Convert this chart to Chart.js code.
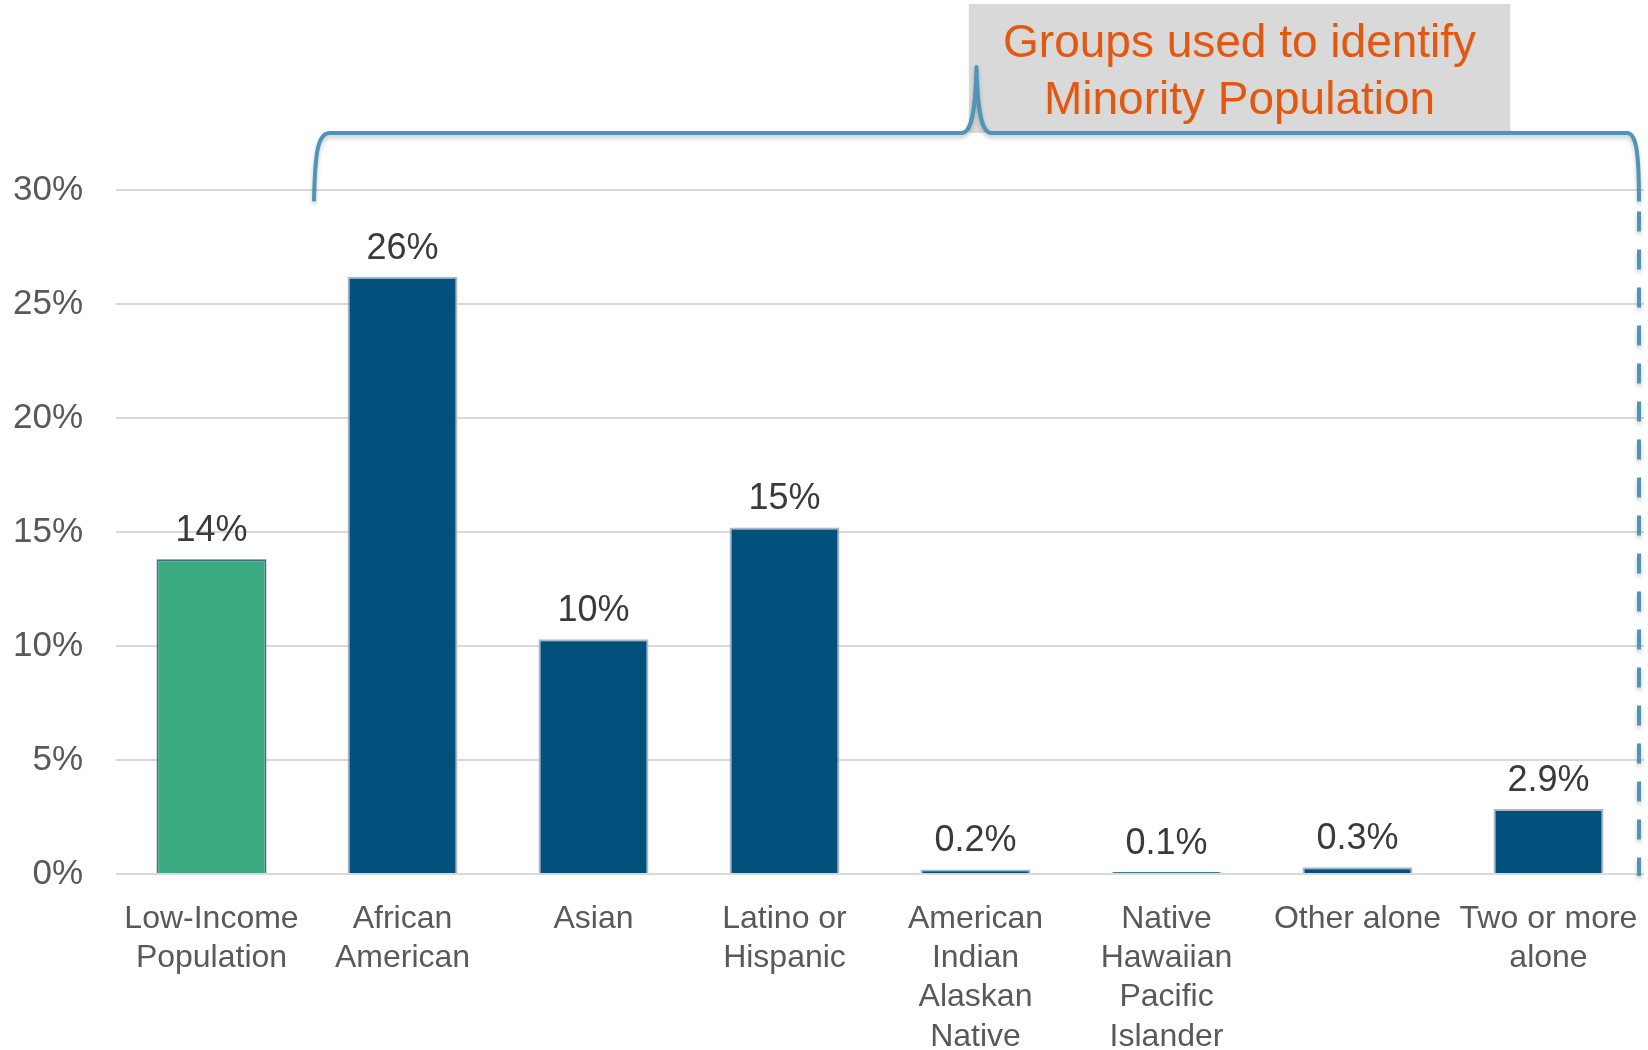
<!DOCTYPE html>
<html>
<head>
<meta charset="utf-8">
<script src="https://cdn.jsdelivr.net/npm/chart.js@4.4.0/dist/chart.umd.min.js"></script>
<style>
  html, body { margin: 0; padding: 0; background: #fff; }
  #wrap { width: 1648px; height: 1050px; position: relative; }
</style>
</head>
<body>
<div id="wrap"><canvas id="chart"></canvas></div>
<script>
  // Chart data
  const categories = [
    ['Low-Income', 'Population'],
    ['African', 'American'],
    ['Asian'],
    ['Latino or', 'Hispanic'],
    ['American', 'Indian', 'Alaskan', 'Native'],
    ['Native', 'Hawaiian', 'Pacific', 'Islander'],
    ['Other alone'],
    ['Two or more', 'alone']
  ];
  const shares = [13.8, 26.2, 10.3, 15.2, 0.2, 0.1, 0.3, 2.85];
  const shareLabels = ['14%', '26%', '10%', '15%', '0.2%', '0.1%', '0.3%', '2.9%'];
  const yTickValues = [0, 5, 10, 15, 20, 25, 30];
  const calloutLines = ['Groups used to identify', 'Minority Population'];

  // Colours
  const GREEN = '#3BAA80';
  const BLUE = '#02507C';
  const BRACE = '#4F95BA';
  const FONT = '"Liberation Sans", Arial, sans-serif';

  const barColors = shares.map((v, i) => i === 0 ? GREEN : BLUE);
  const barBorders = shares.map((v, i) => i === 0 ? '#41708A' : '#A8B8C6');

  // Value labels above each bar
  const valueLabels = {
    id: 'valueLabels',
    afterDatasetsDraw(chart) {
      const ctx = chart.ctx;
      const meta = chart.getDatasetMeta(0);
      ctx.save();
      ctx.font = '36px ' + FONT;
      ctx.fillStyle = '#3A3A3A';
      ctx.textAlign = 'center';
      ctx.textBaseline = 'alphabetic';
      meta.data.forEach((bar, i) => {
        ctx.fillText(shareLabels[i], bar.x, bar.y - 18);
      });
      ctx.restore();
    }
  };

  // Brace + grey callout box over the minority groups
  const callout = {
    id: 'callout',
    afterDraw(chart) {
      const ctx = chart.ctx;
      const x = chart.scales.x;
      const y = chart.scales.y;
      const left = x.getPixelForValue(0.5) + 7;
      const right = x.getPixelForValue(7.5) - 5;
      const mid = (left + right) / 2;
      const lineY = y.getPixelForValue(32.5);
      const peakY = y.getPixelForValue(35.4);
      const tipY = y.getPixelForValue(29.5);
      const zeroY = y.getPixelForValue(0);

      // box
      const boxL = x.getPixelForValue(3.965);
      const boxR = x.getPixelForValue(6.8);
      ctx.save();
      ctx.fillStyle = '#D9D9D9';
      ctx.fillRect(boxL, 4, boxR - boxL, lineY - 4);

      ctx.font = '46px ' + FONT;
      ctx.fillStyle = '#E3580E';
      ctx.textAlign = 'center';
      ctx.textBaseline = 'alphabetic';
      ctx.fillText(calloutLines[0], (boxL + boxR) / 2, 57);
      ctx.fillText(calloutLines[1], (boxL + boxR) / 2, 114);
      ctx.restore();

      // brace
      ctx.save();
      ctx.strokeStyle = BRACE;
      ctx.lineWidth = 4;
      ctx.lineCap = 'butt';
      ctx.lineJoin = 'round';
      ctx.shadowColor = 'rgba(0, 0, 0, 0.22)';
      ctx.shadowBlur = 4;
      ctx.shadowOffsetY = 3;
      ctx.beginPath();
      ctx.moveTo(left, tipY);
      ctx.bezierCurveTo(left + 1, lineY + 18, left + 4, lineY, left + 16, lineY);
      ctx.lineTo(mid - 15, lineY);
      ctx.bezierCurveTo(mid - 5, lineY, mid - 1, lineY - 22, mid, peakY);
      ctx.bezierCurveTo(mid + 1, lineY - 22, mid + 5, lineY, mid + 15, lineY);
      ctx.lineTo(right - 12, lineY);
      ctx.bezierCurveTo(right - 3, lineY, right, lineY + 18, right, tipY);
      ctx.stroke();

      // dashed drop line to the axis
      ctx.setLineDash([20, 18]);
      ctx.beginPath();
      ctx.moveTo(right, tipY + 10);
      ctx.lineTo(right, zeroY + 2);
      ctx.stroke();
      ctx.restore();
    }
  };

  new Chart(document.getElementById('chart'), {
    type: 'bar',
    data: {
      labels: categories,
      datasets: [{
        data: shares,
        backgroundColor: barColors,
        borderColor: barBorders,
        borderWidth: 2,
        barPercentage: 0.576,
        categoryPercentage: 1.0
      }]
    },
    options: {
      responsive: true,
      maintainAspectRatio: false,
      animation: false,
      layout: {
        padding: { top: 190, right: 4, left: 0, bottom: 0 }
      },
      plugins: {
        legend: { display: false },
        tooltip: { enabled: false }
      },
      scales: {
        x: {
          grid: { display: false },
          border: { display: false },
          ticks: {
            color: '#595959',
            font: { family: FONT, size: 32, lineHeight: 1.23 },
            padding: 17,
            maxRotation: 0,
            autoSkip: false
          },
          afterFit(scale) {
            scale.height = 176;
            scale.paddingLeft = 0;
            scale.paddingRight = 0;
          }
        },
        y: {
          min: 0,
          max: 30,
          afterBuildTicks(scale) {
            scale.ticks = yTickValues.map(v => ({ value: v }));
          },
          grid: { color: '#D9D9D9', lineWidth: 2, drawTicks: false },
          border: { display: false },
          ticks: {
            color: '#595959',
            font: { family: FONT, size: 35 },
            padding: 33,
            callback: v => v + '%'
          },
          afterFit(scale) {
            scale.width = 116;
            scale.paddingTop = 0;
            scale.paddingBottom = 0;
          }
        }
      }
    },
    plugins: [valueLabels, callout]
  });
</script>
</body>
</html>
